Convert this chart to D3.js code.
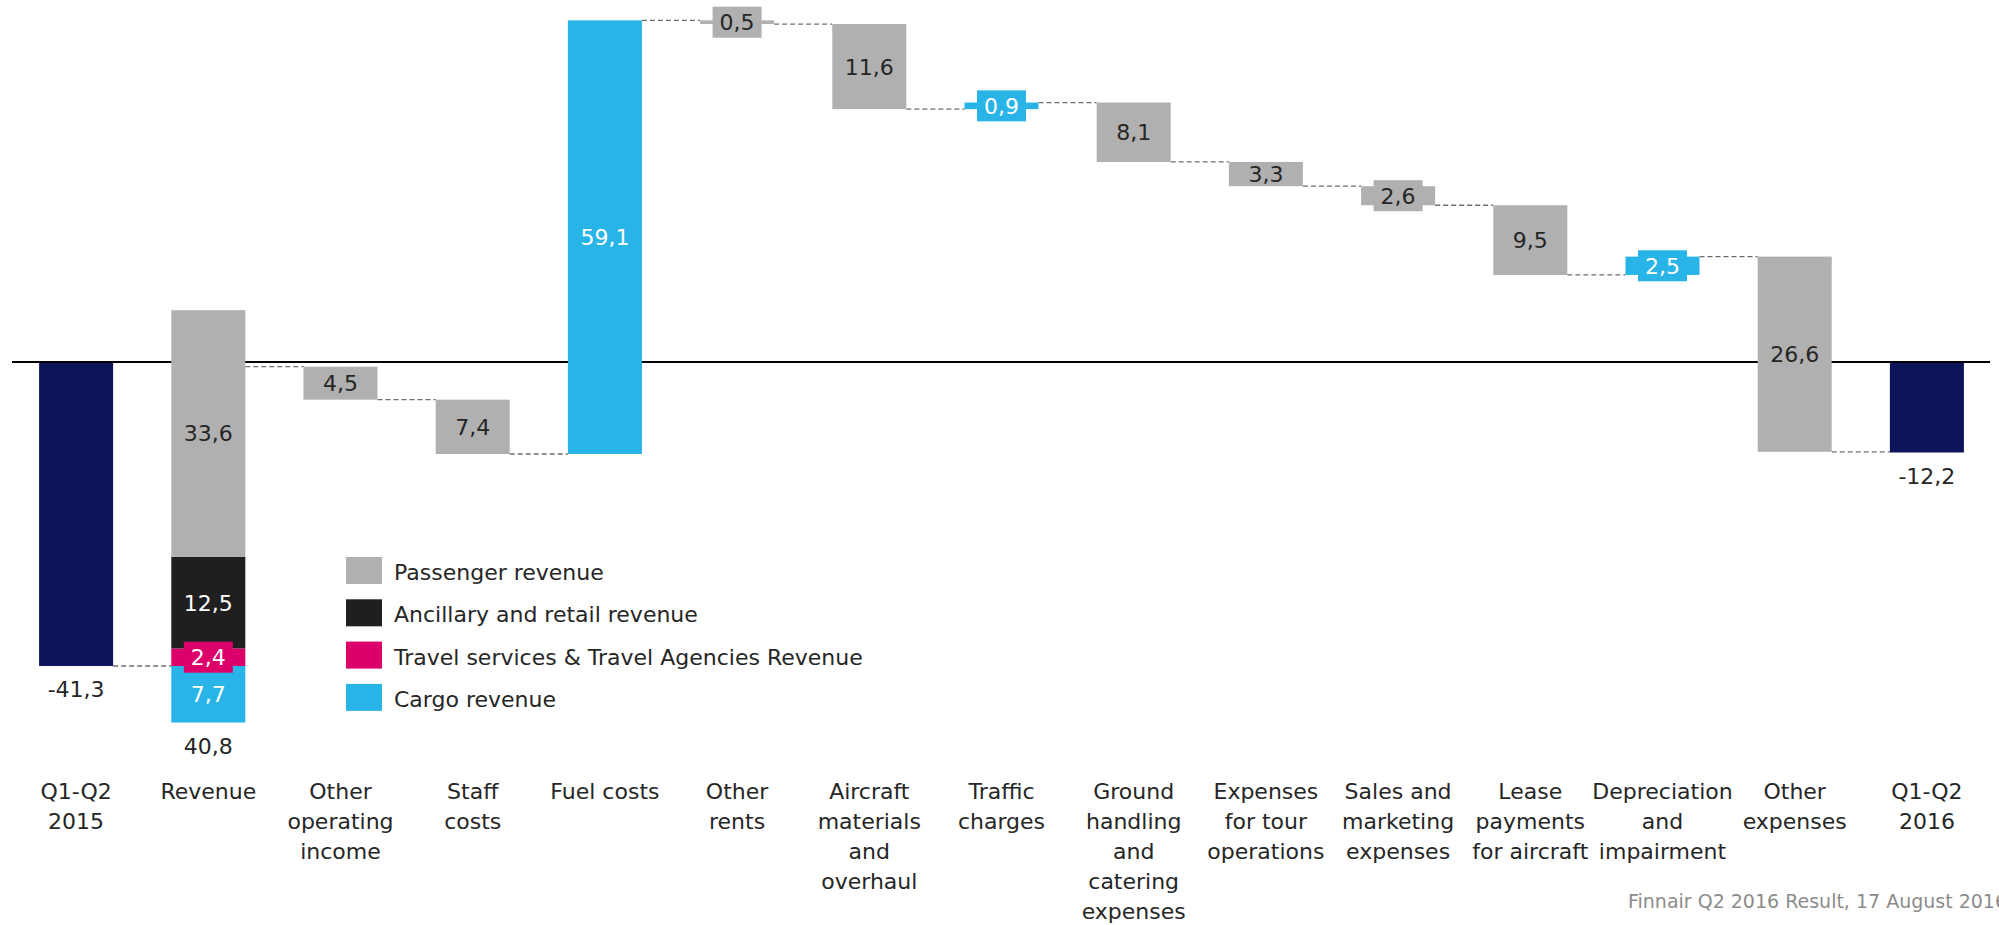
<!DOCTYPE html>
<html>
<head>
<meta charset="utf-8">
<script src="https://cdn.jsdelivr.net/npm/d3@7"></script>
<style>
  html, body { margin: 0; padding: 0; background: #fff; }
  svg { display: block; font-family: "DejaVu Sans", sans-serif; }
</style>
</head>
<body>
<svg id="chart" width="1999" height="925"></svg>
<script>
// Comparable operating result bridge, Q1-Q2 2015 -> Q1-Q2 2016 (EUR million)
const categories = [
  ["Q1-Q2", "2015"],
  ["Revenue"],
  ["Other", "operating", "income"],
  ["Staff", "costs"],
  ["Fuel costs"],
  ["Other", "rents"],
  ["Aircraft", "materials", "and", "overhaul"],
  ["Traffic", "charges"],
  ["Ground", "handling", "and", "catering", "expenses"],
  ["Expenses", "for tour", "operations"],
  ["Sales and", "marketing", "expenses"],
  ["Lease", "payments", "for aircraft"],
  ["Depreciation", "and", "impairment"],
  ["Other", "expenses"],
  ["Q1-Q2", "2016"]
];

const startTotal = -41.3;
const endTotal = -12.2;
// change per step (null = total column)
const changes = [null, 40.8, -4.5, -7.4, 59.1, -0.5, -11.6, 0.9, -8.1, -3.3, -2.6, -9.5, 2.5, -26.6, null];

// revenue split
const revenueSeries = ["Passenger revenue", "Ancillary and retail revenue", "Travel services & Travel Agencies Revenue", "Cargo revenue"];
const revenueValues = [33.6, 12.5, 2.4, -7.7];
const revenueColors = ["#b0b0b0", "#1f1f1f", "#dc006b", "#29b4e8"];
const revenueTextColors = ["#262626", "#ffffff", "#ffffff", "#ffffff"];

const footerText = "Finnair Q2 2016 Result, 17 August 2016";

const COLORS = { total: "#0d1459", neg: "#b0b0b0", pos: "#29b4e8", connector: "#6e6e6e", text: "#262626" };

const loc = d3.formatLocale({ decimal: ",", thousands: " ", grouping: [3], currency: ["", ""], minus: "-" });
const fmt = loc.format(".1f");

const svg = d3.select("#chart");

const x = d3.scaleBand()
  .domain(d3.range(categories.length))
  .range([10, 1993])
  .paddingInner(0.44)
  .paddingOuter(0.22);

const y = d3.scaleLinear().domain([-50, 50]).range([729.85, -3.85]);

// build waterfall steps
const steps = [];
let level = startTotal;
changes.forEach((c, i) => {
  if (i === 0) {
    steps.push({ i, type: "total", from: 0, to: startTotal, value: startTotal });
  } else if (i === changes.length - 1) {
    steps.push({ i, type: "total", from: 0, to: endTotal, value: endTotal });
  } else {
    steps.push({ i, type: c >= 0 ? "pos" : "neg", from: level, to: level + c, value: c });
    level += c;
  }
});

// zero line (bars are drawn on top of it)
svg.append("line")
  .attr("x1", 12).attr("x2", 1990)
  .attr("y1", y(0) - 1).attr("y2", y(0) - 1)
  .attr("stroke", "#000").attr("stroke-width", 2.2);

// connectors
const gConn = svg.append("g");
for (let k = 0; k < steps.length - 1; k++) {
  const lv = steps[k].to;
  gConn.append("line")
    .attr("x1", x(k) + x.bandwidth())
    .attr("x2", x(k + 1))
    .attr("y1", y(lv)).attr("y2", y(lv))
    .attr("stroke", COLORS.connector)
    .attr("stroke-width", 1.3)
    .attr("stroke-dasharray", "5,3");
}

const gBars = svg.append("g");
const gLabels = svg.append("g").attr("font-size", 22);

function boxedLabel(cx, cy, text, fill, textFill) {
  gLabels.append("rect")
    .attr("x", cx - 24.5).attr("y", cy - 15.5)
    .attr("width", 49).attr("height", 31)
    .attr("fill", fill);
  gLabels.append("text")
    .attr("x", cx).attr("y", cy + 8)
    .attr("text-anchor", "middle")
    .attr("fill", textFill)
    .text(text);
}

function barLabel(cx, y1, y2, text, fill, textFill) {
  const cy = (y1 + y2) / 2;
  if (Math.abs(y2 - y1) < 22) {
    boxedLabel(cx, cy, text, fill, textFill);
  } else {
    gLabels.append("text")
      .attr("x", cx).attr("y", cy + 8)
      .attr("text-anchor", "middle")
      .attr("fill", textFill)
      .text(text);
  }
}

steps.forEach(s => {
  const bx = x(s.i), bw = x.bandwidth(), cx = bx + bw / 2;
  if (s.i === 1) {
    // stacked revenue components: positives stacked up from the start level, negatives down
    let up = s.from, down = s.from;
    const order = [2, 1, 0, 3];
    order.forEach(j => {
      const v = revenueValues[j];
      let a, b;
      if (v >= 0) { a = up; b = up + v; up = b; }
      else { a = down; b = down + v; down = b; }
      const yTop = y(Math.max(a, b)), yBot = y(Math.min(a, b));
      gBars.append("rect")
        .attr("x", bx).attr("y", yTop)
        .attr("width", bw).attr("height", yBot - yTop)
        .attr("fill", revenueColors[j]);
    });
    order.forEach(j => {
      const v = revenueValues[j];
      let a = s.from;
      if (v >= 0) {
        for (const k of order) { if (k === j) break; if (revenueValues[k] >= 0) a += revenueValues[k]; }
      }
      const b = a + v;
      barLabel(cx, y(Math.max(a, b)), y(Math.min(a, b)), fmt(Math.abs(v)), revenueColors[j], revenueTextColors[j]);
    });
    gLabels.append("text")
      .attr("x", cx).attr("y", y(down) + 31)
      .attr("text-anchor", "middle").attr("fill", COLORS.text)
      .text(fmt(s.value));
    return;
  }
  const top = Math.max(s.from, s.to), bot = Math.min(s.from, s.to);
  const fill = COLORS[s.type];
  gBars.append("rect")
    .attr("x", bx).attr("y", y(top))
    .attr("width", bw).attr("height", y(bot) - y(top))
    .attr("fill", fill);
  if (s.type === "total") {
    gLabels.append("text")
      .attr("x", cx).attr("y", y(bot) + 31)
      .attr("text-anchor", "middle").attr("fill", COLORS.text)
      .text(fmt(s.value));
  } else {
    barLabel(cx, y(top), y(bot), fmt(Math.abs(s.value)), fill, s.type === "pos" ? "#ffffff" : COLORS.text);
  }
});

// category labels
const gCat = svg.append("g").attr("font-size", 22).attr("fill", COLORS.text).attr("text-anchor", "middle");
categories.forEach((lines, i) => {
  const t = gCat.append("text").attr("x", x(i) + x.bandwidth() / 2).attr("y", 799);
  lines.forEach((ln, k) => {
    t.append("tspan").attr("x", x(i) + x.bandwidth() / 2).attr("dy", k === 0 ? 0 : 30).text(ln);
  });
});

// legend
const gLeg = svg.append("g").attr("font-size", 22).attr("fill", COLORS.text);
revenueSeries.forEach((name, k) => {
  const ry = 557 + k * 42.3;
  gLeg.append("rect").attr("x", 346).attr("y", ry).attr("width", 36).attr("height", 27).attr("fill", revenueColors[k]);
  gLeg.append("text").attr("x", 394).attr("y", ry + 23).text(name);
});

// footer
svg.append("text")
  .attr("x", 1628).attr("y", 908)
  .attr("font-size", 19).attr("fill", "#8c8c8c")
  .text(footerText);
</script>
</body>
</html>
